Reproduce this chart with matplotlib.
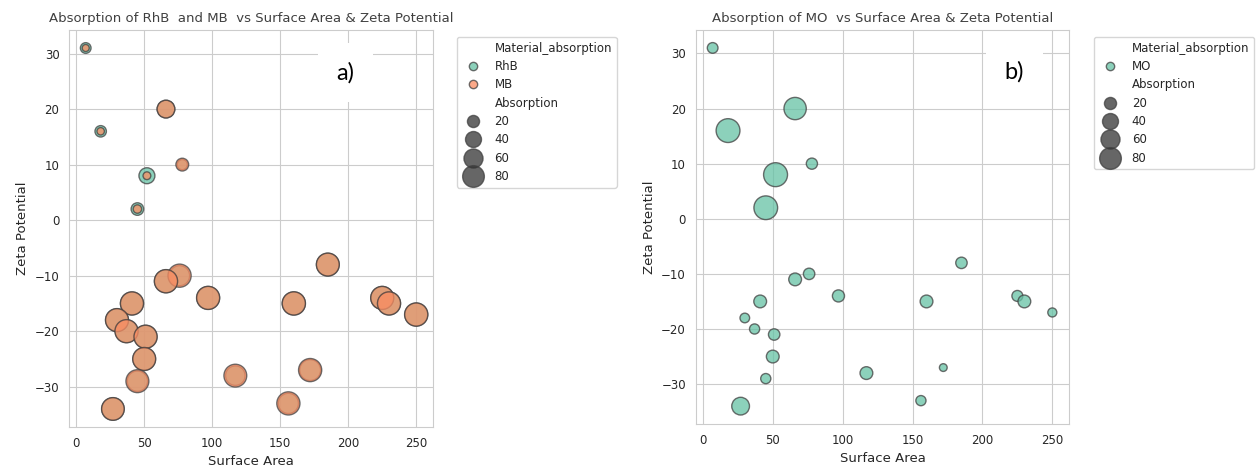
import matplotlib
matplotlib.use("Agg")
import matplotlib.pyplot as plt
import pandas as pd
import seaborn as sns

surface_area = [7, 18, 66, 52, 78, 45, 185, 76, 66, 97, 41, 160, 225, 230,
                250, 30, 37, 51, 50, 45, 117, 172, 156, 27]
zeta = [31, 16, 20, 8, 10, 2, -8, -10, -11, -14, -15, -15, -14, -15,
        -17, -18, -20, -21, -25, -29, -28, -27, -33, -34]
rhb_abs = [14, 17, 50, 40, 12, 22, 88, 68, 90, 89, 90, 91, 89, 90,
           90, 89, 88, 90, 87, 70, 64, 74, 69, 86]
mb_abs = [2, 3, 51, 4, 23, 6, 90, 92, 93, 92, 92, 93, 91, 92,
          93, 91, 92, 92, 91, 90, 89, 92, 92, 88]
mo_abs = [14, 98, 85, 99, 16, 97, 17, 17, 23, 20, 23, 23, 15, 23,
          8, 10, 12, 17, 23, 12, 23, 4, 12, 51]

palette = {"RhB": "#66c2a5", "MB": "#fc8d62", "MO": "#66c2a5"}


def make_df(names, values):
    frames = []
    for n, v in zip(names, values):
        frames.append(pd.DataFrame({"Surface Area": surface_area,
                                    "Zeta Potential": zeta,
                                    "Material_absorption": n,
                                    "Absorption": v}))
    return pd.concat(frames, ignore_index=True)


df_a = make_df(["RhB", "MB"], [rhb_abs, mb_abs])
df_b = make_df(["MO"], [mo_abs])

sns.set_style("whitegrid")
plt.rcParams["font.family"] = ["DejaVu Sans"]
plt.rcParams["axes.titlesize"] = 9.5
plt.rcParams["axes.labelsize"] = 9.5
plt.rcParams["xtick.labelsize"] = 8.5
plt.rcParams["ytick.labelsize"] = 8.5
plt.rcParams["legend.fontsize"] = 8.5

fig = plt.figure(figsize=(12.58, 4.66), dpi=100)
ax1 = fig.add_axes([0.055, 0.0837, 0.289, 0.852])
ax2 = fig.add_axes([0.553, 0.090, 0.297, 0.8456])

panels = [
    (ax1, df_a, "Absorption of RhB  and MB  vs Surface Area & Zeta Potential", "a)", 198),
    (ax2, df_b, "Absorption of MO  vs Surface Area & Zeta Potential", "b)", 223),
]

for ax, df, title, tag, tag_x in panels:
    sns.scatterplot(data=df, x="Surface Area", y="Zeta Potential",
                    hue="Material_absorption", size="Absorption",
                    sizes=(20, 300), size_norm=(0, 100), palette=palette,
                    alpha=0.75, edgecolor="0.25", linewidth=1, ax=ax)
    ax.set_title(title, color="0.25")
    ax.set_xticks([0, 50, 100, 150, 200, 250])
    ax.set_yticks([-30, -20, -10, 0, 10, 20, 30])
    ax.text(tag_x, 26.6, tag, fontsize=17, family="Lato", color="black",
            ha="center", va="center",
            bbox=dict(boxstyle="square,pad=0.8", fc="white", ec="none"))
    sns.move_legend(ax, "upper left", bbox_to_anchor=(1.066, 0.982),
                    borderaxespad=0, title=None, frameon=True,
                    labelspacing=0.45)

fig.savefig("out.png", dpi=100)
